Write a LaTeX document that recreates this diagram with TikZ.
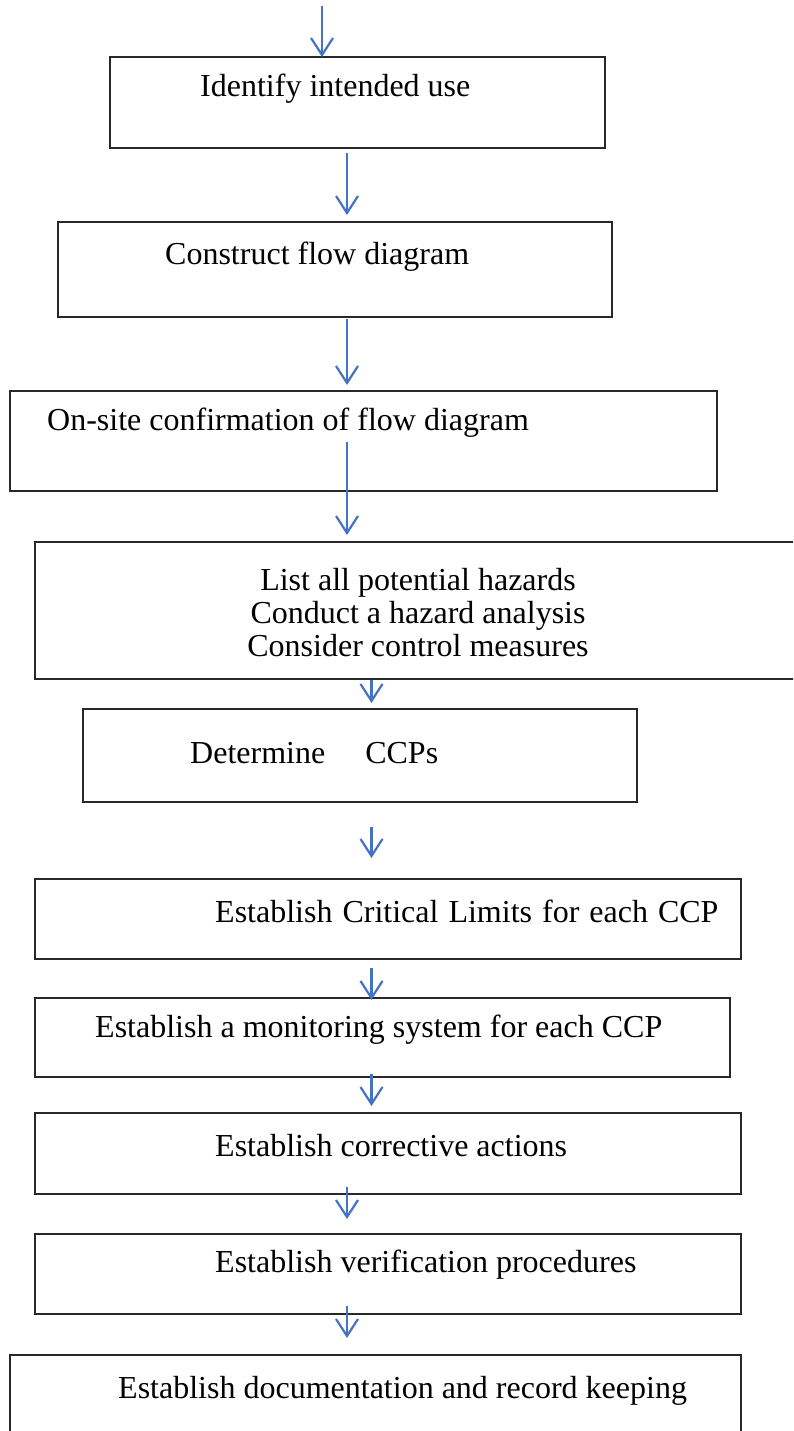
\documentclass[tikz,border=0pt]{standalone}
\usepackage{fontspec}
\setmainfont{Liberation Serif}
\usetikzlibrary{arrows.meta}
\definecolor{arrowblue}{RGB}{68,114,196}
\definecolor{boxline}{RGB}{40,40,40}
\begin{document}
\begin{tikzpicture}[x=1pt,y=-1pt,
  box/.style={draw=boxline, line width=1.4pt, inner sep=0pt, outer sep=0pt},
  lbl/.style={anchor=west, inner sep=0pt, font=\fontsize{32}{37}\selectfont},
  flow/.style={draw=arrowblue, line width=2.2pt,
    -{Straight Barb[length=17pt,width=22pt,line width=2.2pt]}}]
\useasboundingbox (0,0) rectangle (793,1431);
\clip (0,0) rectangle (793,1431);
% boxes
\node[box, minimum width=495pt, minimum height=91pt]  (b1)  at (357.5,102.5) {};
\node[box, minimum width=554pt, minimum height=95pt]  (b2)  at (335,269.5) {};
\node[box, minimum width=707pt, minimum height=100pt] (b3)  at (363.5,441) {};
\node[box, minimum width=765pt, minimum height=137pt] (b4)  at (417.5,610.5) {};
\node[box, minimum width=554pt, minimum height=93pt]  (b5)  at (360,755.5) {};
\node[box, minimum width=706pt, minimum height=80pt]  (b6)  at (388,919) {};
\node[box, minimum width=695pt, minimum height=79pt]  (b7)  at (382.5,1037.5) {};
\node[box, minimum width=706pt, minimum height=81pt]  (b8)  at (388,1153.5) {};
\node[box, minimum width=706pt, minimum height=80pt]  (b9)  at (388,1274) {};
\node[box, minimum width=731pt, minimum height=90pt]  (b10) at (375.5,1400) {};
% texts
\node[lbl] (t1)  at (200,89)   {Identify intended use};
\node[lbl] (t2)  at (165,257)  {Construct flow diagram};
\node[lbl] (t3)  at (47,423)   {On-site confirmation of flow diagram};
\node[inner sep=0pt, align=center, font=\fontsize{32}{33}\selectfont] (t4) at (418,613)
  {List all potential hazards\\Conduct a hazard analysis\\Consider control measures};
\node[lbl] (t5)  at (190,753)  {Determine\hspace{40pt}CCPs};
\node[lbl] (t6)  at (215,911)  {\spaceskip=10pt\relax Establish Critical Limits for each CCP};
\node[lbl] (t7)  at (95,1030)  {Establish a monitoring system for each CCP};
\node[lbl] (t8)  at (215,1146) {Establish corrective actions};
\node[lbl] (t9)  at (215,1265) {Establish verification procedures};
\node[lbl] (t10) at (118,1391) {Establish documentation and record keeping};
% arrow columns
\coordinate (top) at (322,6);
\coordinate (ca) at (347,0);
\coordinate (cb) at (371.5,0);
% arrows
\draw[flow] (top) -- (b1.north -| top);
\draw[flow, shorten <=5pt, shorten >=7pt]   (b1.south -| ca) -- (b2.north -| ca);
\draw[flow, shorten <=2pt, shorten >=6pt]   (b2.south -| ca) -- (b3.north -| ca);
\draw[flow, shorten <=-49pt, shorten >=7pt] (b3.south -| ca) -- (b4.north -| ca);
\draw[flow, shorten <=1pt, shorten >=6pt]   (b4.south -| cb) -- (b5.north -| cb);
\draw[flow, shorten <=25pt, shorten >=21pt] (b5.south -| cb) -- (b6.north -| cb);
\draw[flow, shorten <=9pt, shorten >=-2pt]  (b6.south -| cb) -- (b7.north -| cb);
\draw[flow, shorten <=-3pt, shorten >=7pt]  (b7.south -| cb) -- (b8.north -| cb);
\draw[flow, shorten <=-7pt, shorten >=15pt] (b8.south -| ca) -- (b9.north -| ca);
\draw[flow, shorten <=-8pt, shorten >=17pt] (b9.south -| ca) -- (b10.north -| ca);
\end{tikzpicture}
\end{document}
